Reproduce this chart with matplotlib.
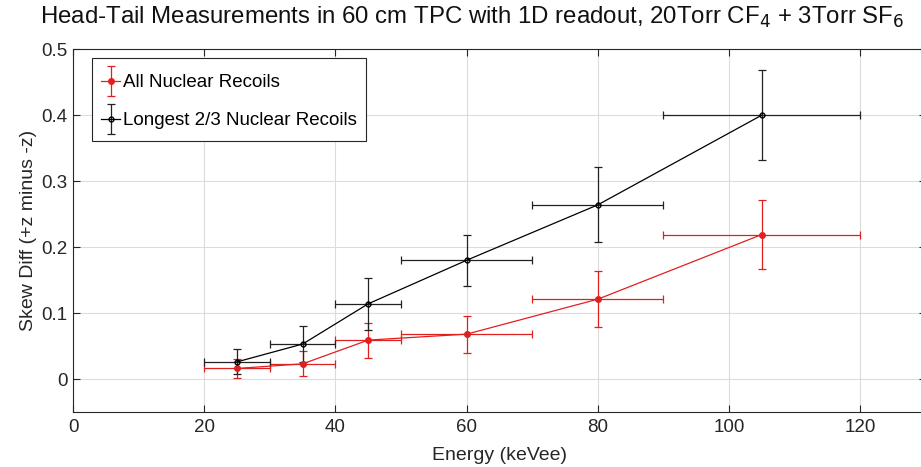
import matplotlib
matplotlib.use("Agg")
import matplotlib.pyplot as plt
from matplotlib.legend_handler import HandlerErrorbar
from matplotlib.container import ErrorbarContainer

plt.rcParams['font.family'] = ['Liberation Sans', 'DejaVu Sans']

energy = [25, 35, 45, 60, 80, 105]
energy_err = [5, 5, 5, 10, 10, 15]

all_skew = [0.016, 0.023, 0.059, 0.068, 0.121, 0.219]
all_err = [0.0145, 0.019, 0.0265, 0.028, 0.042, 0.053]

long_skew = [0.026, 0.053, 0.114, 0.180, 0.264, 0.400]
long_err = [0.019, 0.027, 0.039, 0.039, 0.057, 0.068]

fig = plt.figure(figsize=(9.21, 4.67), dpi=100)
ax = fig.add_axes([0.0793, 0.1178, 0.926, 0.777])

red = '#e0201f'
h1 = ax.errorbar(energy, all_skew, yerr=all_err, xerr=energy_err, color=red,
                 ecolor=red, elinewidth=0.9, capsize=3, capthick=0.9, lw=0.9,
                 marker='o', ms=4, mfc=red, mec=red, label='All Nuclear Recoils', zorder=3)
h2 = ax.errorbar(energy, long_skew, yerr=long_err, xerr=energy_err, color='black',
                 ecolor='#222222', elinewidth=0.9, capsize=3, capthick=0.9, lw=0.9,
                 marker='o', ms=3.5, mfc='none', mec='black', label='Longest 2/3 Nuclear Recoils', zorder=3)
# legend shows only vertical error bars
h1.has_xerr = False
h2.has_xerr = False

ax.set_xlim(0, 130)
ax.set_ylim(-0.05, 0.5)
ax.set_xticks([0, 20, 40, 60, 80, 100, 120])
ax.set_yticks([0, 0.1, 0.2, 0.3, 0.4, 0.5])
ax.set_yticklabels(['0', '0.1', '0.2', '0.3', '0.4', '0.5'])
ax.grid(True, color='#dcdcdc', lw=0.8)
ax.set_axisbelow(True)
ax.tick_params(direction='in', top=True, right=True, labelsize=13.5, length=5,
               colors='#262626')
ax.tick_params(axis='x', pad=5)
ax.tick_params(axis='y', pad=4)
for s in ax.spines.values():
    s.set_color('#262626')
    s.set_linewidth(0.8)

ax.set_xlabel('Energy (keVee)', fontsize=14, color='#262626', labelpad=8)
ax.set_ylabel('Skew Diff (+z minus -z)', fontsize=14, color='#262626', labelpad=3)

fig.text(0.513, 0.962, r'Head-Tail Measurements in 60 cm TPC with 1D readout, 20Torr CF$_4$ + 3Torr SF$_6$',
         ha='center', va='center', fontsize=17.3, color='#111111')

leg = ax.legend(handles=[h1, h2], loc='upper left', bbox_to_anchor=(0.0223, 0.975), fontsize=13.5,
                frameon=True, fancybox=False, edgecolor='#262626', framealpha=1,
                handlelength=1.0, handletextpad=0.15, borderpad=0.5,
                labelspacing=0.64, borderaxespad=0,
                handler_map={ErrorbarContainer: HandlerErrorbar(yerr_size=0.8)})
leg.get_frame().set_linewidth(0.8)

# enlarge row height (vertical padding) without widening the legend
try:
    extra = 4.7
    for col in leg._legend_handle_box.get_children():
        for row in col.get_children():
            da = row.get_children()[0]
            da.height += 2 * extra
            da.ydescent += extra
except Exception:
    pass

fig.savefig('out.png', dpi=100)
